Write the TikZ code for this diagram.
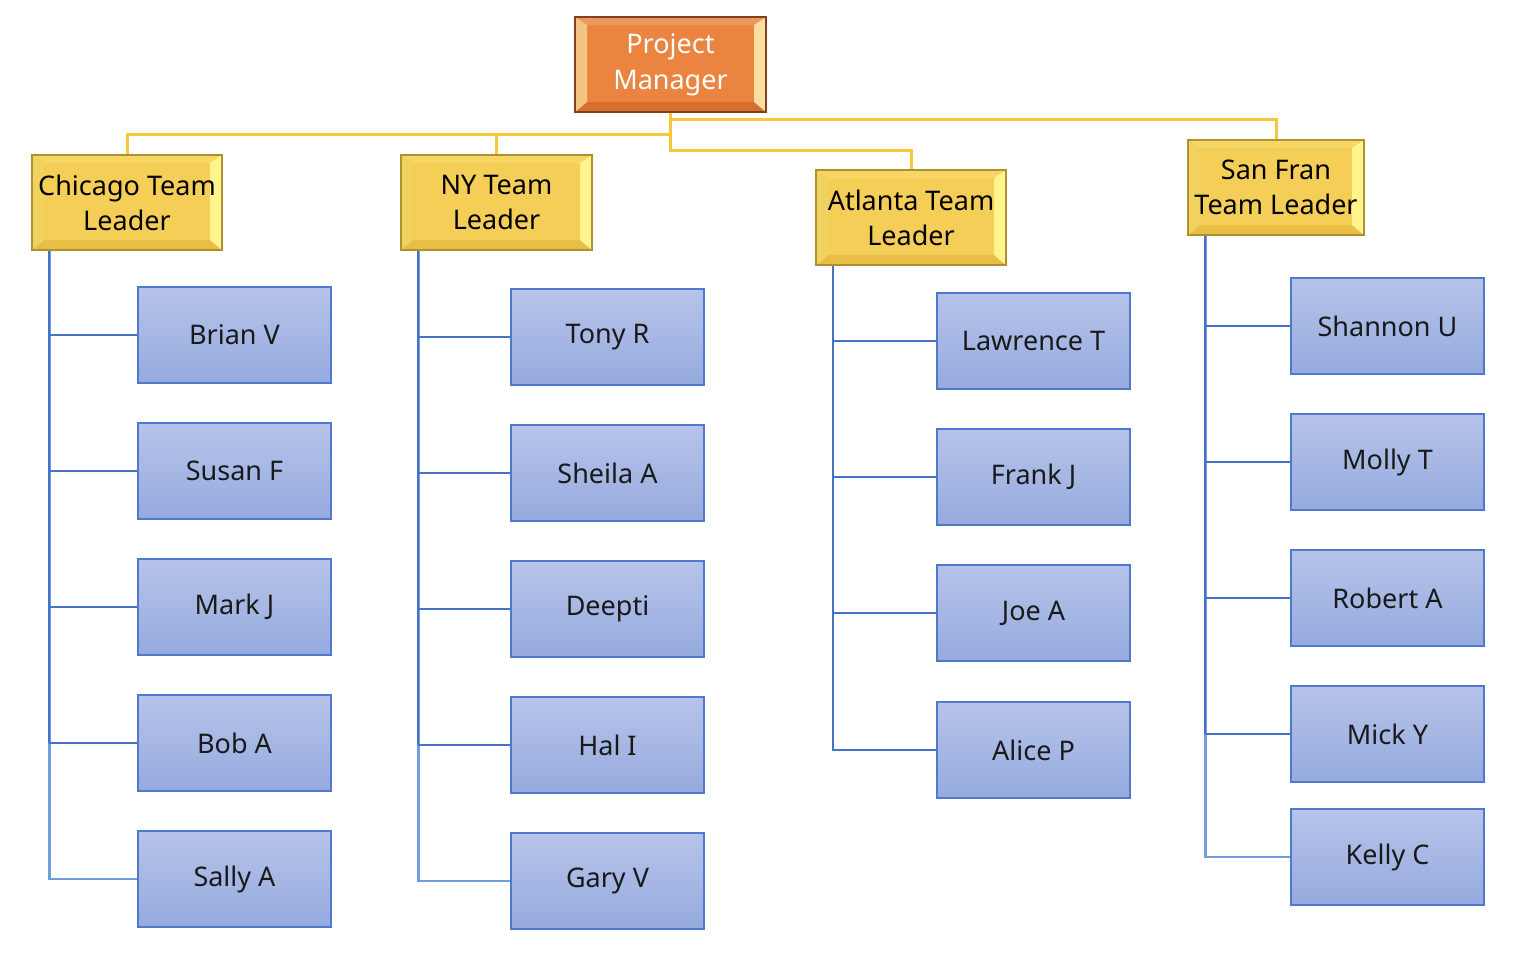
\documentclass[tikz,border=0pt]{standalone}
\usepackage{fontspec}
\setmainfont{Noto Sans}
\definecolor{boxtop}{RGB}{182,196,234}
\definecolor{boxbot}{RGB}{150,170,222}
\definecolor{boxborder}{RGB}{80,120,205}
\definecolor{bline}{RGB}{70,115,200}
\definecolor{bline2}{RGB}{112,158,220}
\definecolor{yline}{RGB}{246,200,60}
\definecolor{ldbase}{RGB}{245,206,88}
\definecolor{ldborder}{RGB}{175,145,50}
\definecolor{ldtop}{RGB}{246,214,100}
\definecolor{ldbot}{RGB}{232,190,70}
\definecolor{ldleft}{RGB}{240,210,95}
\definecolor{ldright}{RGB}{255,245,140}
\definecolor{pmbase}{RGB}{234,132,64}
\definecolor{pmborder}{RGB}{130,64,30}
\definecolor{pmtop}{RGB}{236,152,92}
\definecolor{pmbot}{RGB}{214,110,46}
\definecolor{pmleft}{RGB}{244,196,130}
\definecolor{pmright}{RGB}{250,222,160}
\tikzset{
  bevel/.style n args={4}{path picture={
    \fill[#1] (path picture bounding box.north west) -- (path picture bounding box.north east)
      -- ([xshift=-12pt,yshift=-8pt]path picture bounding box.north east)
      -- ([xshift=12pt,yshift=-8pt]path picture bounding box.north west) -- cycle;
    \fill[#2] (path picture bounding box.south west) -- (path picture bounding box.south east)
      -- ([xshift=-12pt,yshift=10pt]path picture bounding box.south east)
      -- ([xshift=12pt,yshift=10pt]path picture bounding box.south west) -- cycle;
    \fill[#3] (path picture bounding box.north west) -- (path picture bounding box.south west)
      -- ([xshift=12pt,yshift=10pt]path picture bounding box.south west)
      -- ([xshift=12pt,yshift=-8pt]path picture bounding box.north west) -- cycle;
    \fill[#4] (path picture bounding box.north east) -- (path picture bounding box.south east)
      -- ([xshift=-12pt,yshift=10pt]path picture bounding box.south east)
      -- ([xshift=-12pt,yshift=-8pt]path picture bounding box.north east) -- cycle;
  }},
  person/.style={minimum width=193pt, minimum height=96pt, inner sep=0pt,
    draw=boxborder, line width=1.3pt, top color=boxtop, bottom color=boxbot,
    font=\fontsize{27}{34}\selectfont, text=black!90},
  leader/.style={minimum height=95pt, inner sep=0pt, draw=ldborder, line width=1.3pt,
    fill=ldbase, align=center, font=\fontsize{27}{35}\selectfont, text=black,
    bevel={ldtop}{ldbot}{ldleft}{ldright}},
  manager/.style={minimum width=191pt, minimum height=95pt, inner sep=0pt, draw=pmborder,
    line width=1.3pt, fill=pmbase, align=center, font=\fontsize{27}{36}\selectfont, text=white,
    bevel={pmtop}{pmbot}{pmleft}{pmright}},
  yconn/.style={draw=yline, line width=3pt},
  vconn/.style={draw=bline, line width=2pt},
  hconn/.style={draw=bline, line width=1.2pt},
  lastconn/.style={draw=bline2, line width=2.6pt},
}
\begin{document}
\begin{tikzpicture}[x=1pt,y=-1pt]
\useasboundingbox (0,0) rectangle (1524,969);
% manager and leaders
\node[manager] (pm) at (670.5,64.5) {Project\\Manager};
\node[leader, minimum width=190pt] (chi) at (127,202.5) {Chicago Team\\Leader};
\node[leader, minimum width=191pt] (ny) at (496.5,202.5) {NY Team\\Leader};
\node[leader, minimum width=190pt] (atl) at (911,217.5) {Atlanta Team\\Leader};
\node[leader, minimum width=176pt] (sf) at (1276,187.5) {San Fran\\Team Leader};
% people
\node[person] (brian) at (234.5,335) {Brian V};
\node[person] (susan) at (234.5,471) {Susan F};
\node[person] (mark) at (234.5,607) {Mark J};
\node[person] (bob) at (234.5,743) {Bob A};
\node[person] (sally) at (234.5,879) {Sally A};
\node[person] (tony) at (607.5,337) {Tony R};
\node[person] (sheila) at (607.5,473) {Sheila A};
\node[person] (deepti) at (607.5,609) {Deepti};
\node[person] (hal) at (607.5,745) {Hal I};
\node[person] (gary) at (607.5,881) {Gary V};
\node[person] (lawrence) at (1033.5,341) {Lawrence T};
\node[person] (frank) at (1033.5,477) {Frank J};
\node[person] (joe) at (1033.5,613) {Joe A};
\node[person] (alice) at (1033.5,750) {Alice P};
\node[person] (shannon) at (1387.5,326) {Shannon U};
\node[person] (molly) at (1387.5,462) {Molly T};
\node[person] (robert) at (1387.5,598) {Robert A};
\node[person] (mick) at (1387.5,734) {Mick Y};
\node[person] (kelly) at (1387.5,857) {Kelly C};
% yellow connectors
\begin{scope}[on background layer/.style={}]
\coordinate (pmA) at (pm.south |- 0,134);
\coordinate (pmB) at (pm.south |- 0,150);
\coordinate (pmC) at (pm.south |- 0,119);
\draw[yconn] (pm.south) -- (pmB) -| (atl.north);
\draw[yconn] (pmA) -| (chi.north);
\draw[yconn] (pmA) -| (ny.north);
\draw[yconn] (pmC) -| (sf.north);
\end{scope}
% blue vertical spines
\coordinate (chiv) at ([xshift=18pt]chi.south west);
\coordinate (nyv) at ([xshift=18pt]ny.south west);
\coordinate (atlv) at ([xshift=18pt]atl.south west);
\coordinate (sfv) at ([xshift=18pt]sf.south west);
\draw[lastconn] (chiv) |- (sally.west);
\draw[vconn] (chiv) -- (chiv |- bob.west);
\foreach \p in {brian,susan,mark,bob} \draw[hconn] (\p.west) -- (\p.west -| chiv);
\draw[lastconn] (nyv) |- (gary.west);
\draw[vconn] (nyv) -- (nyv |- hal.west);
\foreach \p in {tony,sheila,deepti,hal} \draw[hconn] (\p.west) -- (\p.west -| nyv);
\draw[vconn] (atlv) |- (alice.west);
\foreach \p in {lawrence,frank,joe} \draw[hconn] (\p.west) -- (\p.west -| atlv);
\draw[lastconn] (sfv) |- (kelly.west);
\draw[vconn] (sfv) -- (sfv |- mick.west);
\foreach \p in {shannon,molly,robert,mick} \draw[hconn] (\p.west) -- (\p.west -| sfv);
\end{tikzpicture}
\end{document}
